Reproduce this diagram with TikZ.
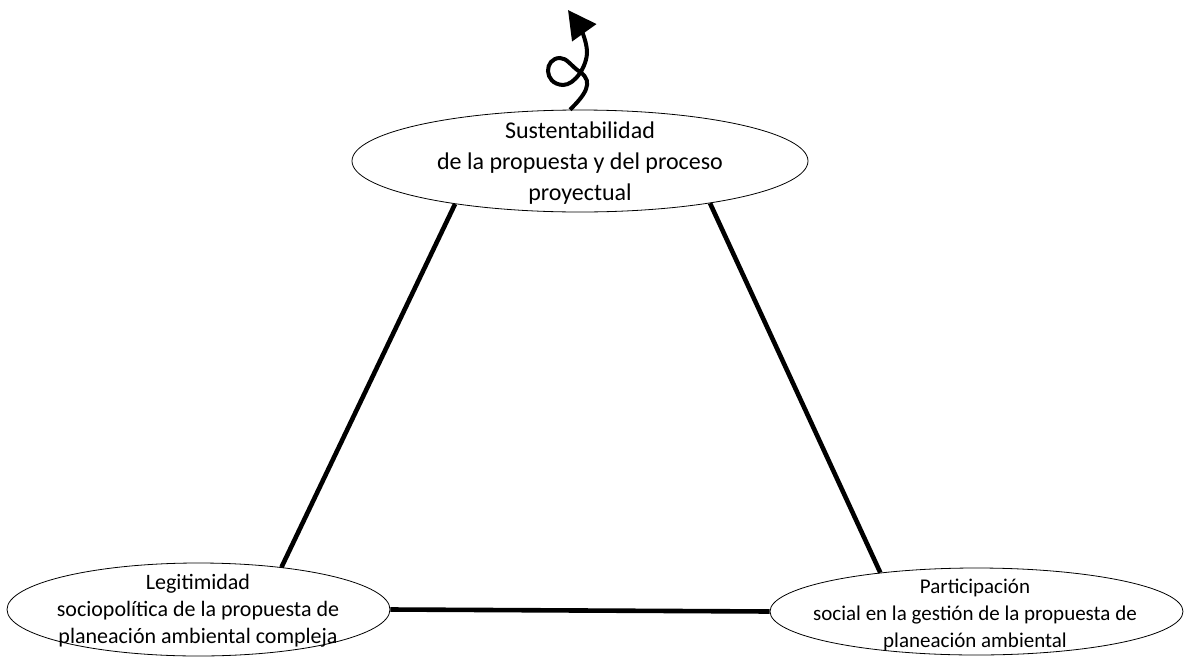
\documentclass[tikz,border=0pt]{standalone}
\usepackage{fontspec}
\setmainfont{Carlito}
\usetikzlibrary{shapes.geometric,arrows.meta}

\tikzset{
    bubble/.style={draw, ellipse, line width=0.8pt, inner sep=0pt},
    side/.style={line width=4.6pt},
    loopy/.style={line width=4pt, -{Triangle[length=28pt,width=29pt]}},
}

\begin{document}
\begin{tikzpicture}[x=1pt,y=-1pt]
    \useasboundingbox (0,0) rectangle (1186,656);
    % the three ellipses
    \node[bubble, minimum width=456pt, minimum height=102pt] (sus) at (580,161) {};
    \node[bubble, minimum width=383pt, minimum height=93pt] (leg) at (198.5,609.5) {};
    \node[bubble, minimum width=413pt, minimum height=87pt] (par) at (976.5,611.5) {};
    % their texts
    \node[align=center, font=\fontsize{24}{31}\selectfont] (sustxt) at (580,163) {Sustentabilidad\\ de la propuesta y del proceso\\ proyectual};
    \node[align=center, font=\fontsize{22}{27}\selectfont] (legtxt) at (198,611) {Legitimidad\\ sociopol\'itica de la propuesta de\\ planeaci\'on ambiental compleja};
    \node[align=center, font=\fontsize{21}{27}\selectfont] (partxt) at (975,615) {Participaci\'on\\ social en la gesti\'on de la propuesta de\\ planeaci\'on ambiental};
    % sides of the triangle
    \draw[side] (sus.199) -- (leg.27);
    \draw[side] (sus.342) -- (par.158);
    \draw[side] (leg.east) -- (par.west);
    % the curl on top
    \draw[loopy] (sus.101) .. controls (584,96) and (595,82) .. (580,72)
        .. controls (571,66) and (567,58) .. (560,58)
        .. controls (544,58) and (543,84) .. (563,85)
        .. controls (575,85) and (587,66) .. (587,52)
        .. controls (587,40) and (578,24) .. (568,10);
\end{tikzpicture}
\end{document}
